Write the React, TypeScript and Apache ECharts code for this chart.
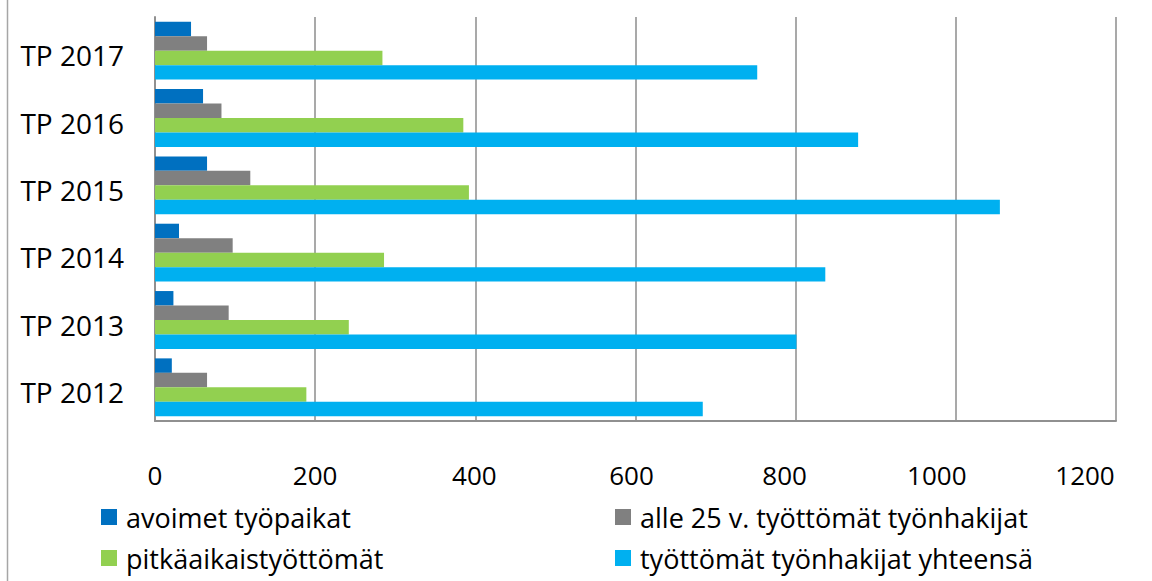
import React, { useEffect, useRef } from "react";
import * as echarts from "echarts";

const categories = ["TP 2012", "TP 2013", "TP 2014", "TP 2015", "TP 2016", "TP 2017"];
const seriesNames = [
  "avoimet työpaikat",
  "alle 25 v. työttömät työnhakijat",
  "pitkäaikaistyöttömät",
  "työttömät työnhakijat yhteensä",
];
const avoimet = [21, 23, 30, 65, 60, 45];
const alle25 = [65, 92, 97, 119, 83, 65];
const pitka = [189, 242, 286, 392, 385, 284];
const yhteensa = [684, 801, 837, 1055, 878, 752];
const colors = ["#0070C0", "#808080", "#92D050", "#00B0F0"];
const xTicks = { min: 0, max: 1200, interval: 200 };
// leftward nudge (px) of each tick label, as in the reference rendering
const tickLabelShift: Record<string, number> = {
  "0": 0,
  "200": 0,
  "400": 1,
  "600": 4,
  "800": 11,
  "1000": 19,
  "1200": 31,
};

const FONT = "Open Sans";

export default function App() {
  const ref = useRef<HTMLDivElement>(null);
  useEffect(() => {
    if (!ref.current) return;
    const chart = echarts.init(ref.current, null, { renderer: "svg" });
    const values = [avoimet, alle25, pitka, yhteensa];
    const legendText = {
      fontFamily: FONT,
      fontSize: 27,
      color: "#000",
      lineHeight: 30,
      padding: [0, 0, 0, 4],
    };
    const rich: Record<string, any> = {};
    Object.keys(tickLabelShift).forEach((k) => {
      rich["t" + k] = {
        fontFamily: FONT,
        fontSize: 26,
        color: "#000",
        padding: [8, tickLabelShift[k] * 2, 0, 0],
      };
    });
    const legendPos = [
      { left: 101, top: 502 },
      { left: 615, top: 502 },
      { left: 101, top: 543 },
      { left: 615, top: 543 },
    ];
    chart.setOption({
      animation: false,
      backgroundColor: "#fff",
      grid: { left: 155, right: 36, top: 17, bottom: 160, containLabel: false },
      xAxis: {
        type: "value",
        min: xTicks.min,
        max: xTicks.max,
        interval: xTicks.interval,
        axisLine: { show: true, lineStyle: { color: "#909090", width: 2 } },
        axisTick: { show: false },
        axisLabel: {
          fontFamily: FONT,
          fontSize: 26,
          color: "#000",
          margin: 33,
          formatter: (v: number) => `{t${v}|${v}}`,
          rich,
        },
        splitLine: { show: true, lineStyle: { color: "#8c8c8c", width: 1.5 } },
      },
      yAxis: {
        type: "category",
        data: categories,
        axisLine: { show: true, lineStyle: { color: "#909090", width: 2 } },
        axisTick: { show: false },
        axisLabel: {
          fontFamily: FONT,
          fontSize: 28,
          color: "#000",
          margin: 31,
          formatter: (v: string) => `{c|${v}}`,
          rich: {
            c: {
              fontFamily: FONT,
              fontSize: 28,
              color: "#000",
              padding: [9, 0, 0, 0],
            },
          },
        },
        splitLine: { show: false },
      },
      legend: seriesNames.map((name, i) => ({
        orient: "horizontal",
        left: legendPos[i].left,
        top: legendPos[i].top,
        padding: 0,
        itemWidth: 16,
        itemHeight: 16,
        icon: "rect",
        data: [name],
        textStyle: legendText,
      })),
      graphic: [
        {
          type: "line",
          shape: { x1: 7.5, y1: 0, x2: 7.5, y2: 581 },
          style: { stroke: "#a6a6a6", lineWidth: 1.5 },
          silent: true,
        },
      ],
      series: seriesNames.map((name, i) => ({
        name,
        type: "bar",
        data: values[i],
        itemStyle: { color: colors[i] },
        barGap: "0%",
        barCategoryGap: "14%",
      })),
    });
    return () => chart.dispose();
  }, []);
  return (
    <div
      ref={ref}
      style={{ position: "fixed", left: 0, top: 0, width: 1152, height: 581 }}
    />
  );
}
